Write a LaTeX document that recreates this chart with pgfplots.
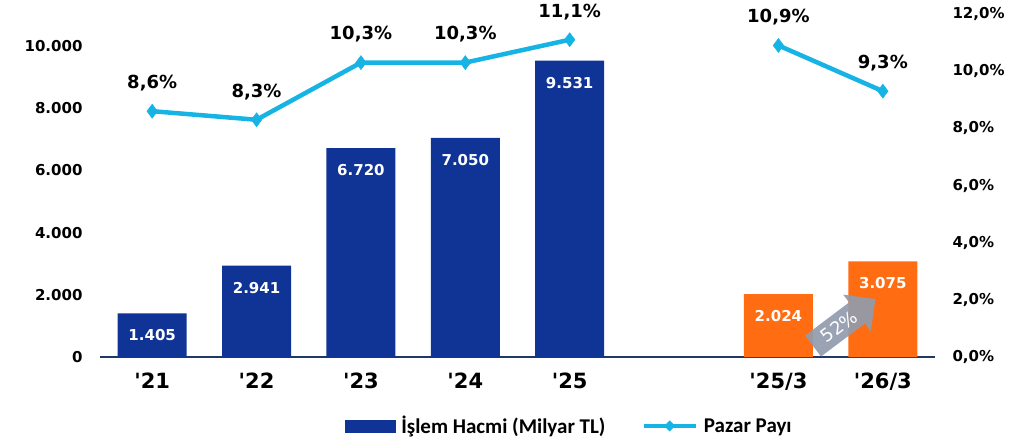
\documentclass[border=0pt]{standalone}
\usepackage{pgfplots}
\pgfplotsset{compat=1.18}
\usepackage{fontspec}
\setmainfont{DejaVu Sans}
\newfontfamily\legfont{Carlito}
\usetikzlibrary{shapes.arrows,shapes.geometric}
\definecolor{barblue}{RGB}{16,52,150}
\definecolor{barorange}{RGB}{255,108,18}
\definecolor{linecyan}{RGB}{22,180,228}
\definecolor{axisnavy}{RGB}{31,56,100}
\definecolor{arrowgray}{RGB}{145,155,172}
\begin{document}
\begin{tikzpicture}[x=1pt,y=1pt]
\useasboundingbox (-100,-85) rectangle (931,357);
\begin{axis}[
  at={(0pt,0pt)}, anchor=south west,
  scale only axis, width=835pt, height=343pt,
  xmin=-0.5, xmax=7.5, ymin=0, ymax=11030,
  axis x line*=bottom, axis y line*=left,
  x axis line style={draw=axisnavy, line width=1.6pt, -},
  y axis line style={draw=none},
  major tick length=0pt,
  scaled y ticks=false,
  xtick={0,1,2,3,4,6,7},
  xticklabels={{\textquotesingle 21},{\textquotesingle 22},{\textquotesingle 23},{\textquotesingle 24},{\textquotesingle 25},{\textquotesingle 25/3},{\textquotesingle 26/3}},
  xticklabel style={font=\bfseries\fontsize{21}{24}\selectfont, yshift=-12pt},
  ytick={0,2000,4000,6000,8000,10000},
  yticklabel={\pgfmathprintnumber[1000 sep={.}]{\tick}},
  yticklabel style={font=\bfseries\fontsize{15}{18}\selectfont, xshift=-14pt},
  /pgf/number format/assume math mode=true,
  clip=false,
]
\addplot[ybar, bar width=0.66, bar shift=0pt, fill=barblue, draw=none,
  nodes near coords={\pgfmathprintnumber[1000 sep={.}]{\pgfplotspointmeta}},
  every node near coord/.append style={anchor=center, yshift=-22pt, text=white, font=\bfseries\fontsize{15}{18}\selectfont}]
  coordinates {(0,1405) (1,2941) (2,6720) (3,7050) (4,9531)};
\addplot[ybar, bar width=0.66, bar shift=0pt, fill=barorange, draw=none,
  nodes near coords={\pgfmathprintnumber[1000 sep={.}]{\pgfplotspointmeta}},
  every node near coord/.append style={anchor=center, yshift=-22pt, text=white, font=\bfseries\fontsize{15}{18}\selectfont}]
  coordinates {(6,2024) (7,3075)};
\node[single arrow, fill=arrowgray, fill opacity=0.92, text opacity=1, text=white,
  rotate=37, minimum height=78pt, minimum width=46pt, single arrow head extend=6pt,
  inner sep=1pt, font=\fontsize{18}{20}\selectfont]
  at (axis cs:6.58,980) {52\%};
\end{axis}
\begin{axis}[
  at={(0pt,0pt)}, anchor=south west,
  scale only axis, width=835pt, height=343pt,
  xmin=-0.5, xmax=7.5, ymin=0, ymax=12,
  axis x line=none, axis y line*=right,
  y axis line style={draw=none},
  major tick length=0pt,
  ytick={0,2,4,6,8,10,12},
  yticklabel={\pgfmathprintnumber[fixed,precision=1,zerofill,use comma]{\tick}\%},
  yticklabel style={font=\bfseries\fontsize{15}{18}\selectfont, xshift=14pt},
  /pgf/number format/assume math mode=true,
  clip=false,
  legend style={at={(0.562,-0.201)}, anchor=center, draw=none, fill=none,
    legend columns=2, font=\legfont\bfseries\fontsize{21}{23}\selectfont,
    /tikz/every odd column/.append style={column sep=4pt},
    /tikz/every even column/.append style={column sep=34pt}},
]
\addlegendimage{legend image code/.code={\fill[barblue] (0pt,-6pt) rectangle (50pt,6pt);}}
\addlegendentry{İşlem Hacmi (Milyar TL)}
\addplot[linecyan, line width=4.5pt, mark=diamond*, mark size=7pt,
  mark options={fill=linecyan, draw=linecyan, line width=0.5pt},
  unbounded coords=jump,
  nodes near coords={\pgfmathprintnumber[fixed,precision=1,zerofill,use comma]{\pgfplotspointmeta}\%},
  every node near coord/.append style={anchor=center, yshift=28pt, text=black, font=\bfseries\fontsize{18}{20}\selectfont},
  legend image code/.code={\draw[linecyan, line width=4.5pt] (0pt,0pt) -- (52pt,0pt); \node[diamond, fill=linecyan, inner sep=0pt, minimum size=13pt] at (26pt,0pt) {};}]
  coordinates {(0,8.6) (1,8.3) (2,10.3) (3,10.3) (4,11.1) (5,nan) (6,10.9) (7,9.3)};
\addlegendentry{Pazar Payı}
\end{axis}
\end{tikzpicture}
\end{document}
